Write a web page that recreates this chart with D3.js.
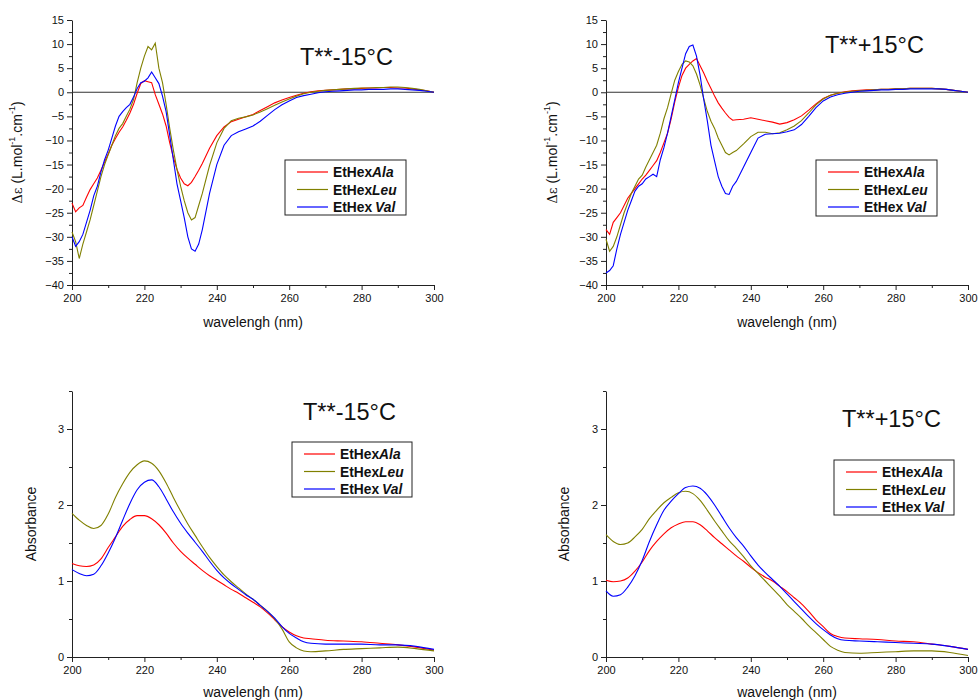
<!DOCTYPE html>
<html><head><meta charset="utf-8">
<script src="https://cdn.jsdelivr.net/npm/d3@7"></script>
<style>
body{margin:0;background:#fff;}
svg{display:block;font-family:"Liberation Sans",Arial,sans-serif;}
</style></head>
<body><svg id="c" width="978" height="700"></svg>
<script>
// ---------- DATA ----------
const seriesNames = ["Ala","Leu","Val"];
const seriesColors = ["#ff0000","#808000","#0000ff"];
const panelTitles = ["T**-15°C","T**+15°C","T**-15°C","T**+15°C"];
const cdTicks = [-40,-35,-30,-25,-20,-15,-10,-5,0,5,10,15];
const absTicks = [0,1,2,3];
const xTicks = [200,220,240,260,280,300];

const cdWl = [200,201,202,203,204,205,206,207,208,209,210,211,212,213,214,215,216,217,218,219,220,221,222,223,224,225,226,227,228,229,230,231,232,233,234,235,236,
  238,240,242,244,246,248,250,252,254,256,258,260,262,264,266,268,270,272,274,276,278,280,282,284,286,288,290,292,294,296,298,300];

const cdAlaM15 = [-23,-24.8,-24,-23.5,-21.8,-20.2,-19,-17.8,-16.2,-14.5,-12.8,-11,-9.6,-8.3,-7.2,-5.8,-4.3,-2.5,-0.2,1.8,2.4,2.2,2,-0.5,-2.5,-4.5,-7,-10.5,-13.5,-16,-17.8,-19,-19.4,-18.7,-17.5,-16.2,-14.8,
  -11.6,-9,-7.2,-6.1,-5.6,-5.1,-4.6,-3.8,-3,-2.2,-1.6,-1.1,-0.6,-0.2,0.1,0.3,0.4,0.5,0.6,0.7,0.7,0.8,0.9,0.9,1.0,1.0,0.9,0.9,0.7,0.5,0.3,0];
const cdLeuM15 = [-29,-31,-34.5,-31.5,-29,-26.5,-23.5,-20.5,-17.5,-15,-13,-11,-9,-7.5,-6.5,-5,-3.5,-1.5,2,5,7.5,9.5,8.8,10.2,5,2,-2.5,-7.5,-12,-16,-19.5,-22.5,-25,-26.5,-26,-23.5,-21,
  -15.2,-10.5,-7.5,-5.9,-5.4,-5.1,-4.7,-4.1,-3.4,-2.7,-2,-1.4,-0.8,-0.3,0,0.2,0.4,0.5,0.6,0.7,0.8,0.9,0.9,1.0,1.0,1.1,1.1,1.0,0.8,0.6,0.3,0];
const cdValM15 = [-30,-32,-31,-29.5,-27,-24.5,-21.5,-19.5,-16.5,-14,-12,-9.5,-7,-5,-4,-3.2,-2.5,-1,0.8,2,2.3,3,4.2,3,1.8,-0.8,-4,-9,-14,-19,-22.5,-26,-30,-32.5,-33,-31.5,-28.5,
  -21,-15,-11,-9,-8.2,-7.6,-7,-6,-4.8,-3.6,-2.6,-1.8,-1.1,-0.7,-0.4,-0.1,0.1,0.2,0.3,0.4,0.5,0.5,0.6,0.6,0.6,0.7,0.7,0.6,0.5,0.4,0.2,0];

const cdAlaP15 = [-28.5,-29.5,-27,-26,-25,-23.5,-22,-21,-20,-19,-18,-17.2,-16.2,-15.2,-14.2,-12.5,-10.5,-8.5,-5.5,-2,1,3.5,5,5.8,6.5,7,5.5,4,2.3,0.8,-0.8,-2.2,-3.3,-4.3,-5.2,-5.8,-5.7,
  -5.6,-5.3,-5.6,-5.9,-6.2,-6.6,-6.3,-5.7,-4.9,-3.7,-2.4,-1.3,-0.6,-0.2,0.1,0.3,0.4,0.5,0.5,0.6,0.6,0.7,0.7,0.8,0.8,0.8,0.8,0.7,0.6,0.4,0.2,0];
const cdLeuP15 = [-30.5,-33,-32,-30,-27.5,-25,-23,-21,-19.5,-18,-17.2,-15.5,-14,-12.5,-11,-8.5,-5.5,-3.2,-0.3,2.5,4.3,5.8,6.5,6.3,5.5,3.8,1.5,-1.3,-4,-6,-7.5,-9.5,-11,-12.5,-13,-12.5,-12.1,
  -10.7,-9.2,-8.3,-8.3,-8.6,-8.4,-7.8,-7,-5.9,-4.3,-2.6,-1.4,-0.6,-0.2,0,0.2,0.3,0.4,0.5,0.6,0.6,0.7,0.7,0.8,0.8,0.8,0.8,0.7,0.6,0.4,0.2,0];
const cdValP15 = [-37.5,-37,-36,-32.5,-29.5,-27,-24.5,-22.5,-20.5,-19.5,-19,-18,-17.5,-17,-17.5,-14,-11.5,-8.5,-5,-1.5,2,5,8,9.5,9.8,7.5,3.5,-1.5,-6,-11,-14.3,-17.5,-19.5,-21,-21.2,-19.5,-18.5,
  -15.5,-12.5,-9.5,-8.7,-8.6,-8.5,-8.2,-7.8,-6.7,-5,-3.2,-1.8,-1,-0.5,-0.2,0,0.2,0.3,0.4,0.5,0.5,0.6,0.6,0.7,0.7,0.7,0.7,0.7,0.6,0.4,0.2,0];

const absWl = [200,202,204,206,208,210,212,214,216,218,220,222,224,226,228,230,232,234,236,238,240,242,244,246,248,250,252,254,256,258,260,262,264,266,270,275,280,285,290,295,300];

const absAlaM15 = [1.23,1.20,1.19,1.21,1.29,1.44,1.58,1.72,1.81,1.86,1.86,1.82,1.74,1.63,1.50,1.39,1.30,1.22,1.14,1.07,1.01,0.95,0.89,0.84,0.78,0.72,0.66,0.58,0.49,0.40,0.33,0.28,0.25,0.24,0.22,0.21,0.20,0.18,0.16,0.13,0.09];
const absLeuM15 = [1.89,1.80,1.73,1.69,1.73,1.88,2.10,2.28,2.43,2.53,2.58,2.55,2.45,2.29,2.10,1.92,1.75,1.60,1.45,1.31,1.19,1.08,0.99,0.91,0.83,0.76,0.68,0.60,0.50,0.37,0.20,0.12,0.08,0.07,0.08,0.10,0.11,0.12,0.13,0.11,0.08];
const absValM15 = [1.15,1.10,1.07,1.09,1.20,1.37,1.57,1.80,2.02,2.20,2.30,2.33,2.24,2.08,1.91,1.76,1.63,1.51,1.39,1.26,1.14,1.04,0.96,0.89,0.82,0.76,0.68,0.60,0.51,0.40,0.31,0.25,0.20,0.18,0.17,0.17,0.17,0.16,0.16,0.14,0.10];

const absAlaP15 = [1.01,0.99,1.00,1.04,1.13,1.25,1.40,1.52,1.62,1.70,1.75,1.78,1.78,1.74,1.66,1.57,1.49,1.41,1.33,1.26,1.18,1.11,1.05,1.00,0.93,0.86,0.78,0.70,0.60,0.49,0.40,0.31,0.27,0.25,0.24,0.23,0.21,0.20,0.17,0.14,0.10];
const absLeuP15 = [1.61,1.52,1.48,1.50,1.58,1.68,1.82,1.93,2.03,2.10,2.16,2.18,2.15,2.06,1.93,1.79,1.66,1.53,1.43,1.32,1.20,1.10,1.00,0.90,0.80,0.69,0.60,0.51,0.41,0.32,0.23,0.14,0.09,0.06,0.05,0.06,0.07,0.08,0.08,0.06,0.02];
const absValP15 = [0.87,0.80,0.82,0.92,1.07,1.27,1.52,1.74,1.93,2.05,2.15,2.23,2.25,2.22,2.13,2.00,1.85,1.70,1.57,1.46,1.33,1.21,1.11,1.02,0.93,0.83,0.73,0.63,0.53,0.44,0.36,0.29,0.24,0.22,0.21,0.20,0.19,0.18,0.17,0.14,0.10];

// ---------- LAYOUT ----------
const svg = d3.select("#c");
const axisColor = "#222";

const panels = [
  {x0:72,x1:434,yt:20,yb:285,dom:[-40,15],ticks:cdTicks,minor:2.5,wl:cdWl,data:[cdAlaM15,cdLeuM15,cdValM15],title:panelTitles[0],tx:300,ty:65,
   leg:[285,160,121,55],ylab:"cd",ylx:18,xlabY:327,zero:true},
  {x0:606,x1:968,yt:20,yb:285,dom:[-40,15],ticks:cdTicks,minor:2.5,wl:cdWl,data:[cdAlaP15,cdLeuP15,cdValP15],title:panelTitles[1],tx:825,ty:53,
   leg:[816,160,121,56],ylab:"cd",ylx:553,xlabY:327,zero:true},
  {x0:72,x1:434,yt:391,yb:657,dom:[0,3.5],ticks:absTicks,minor:0.5,wl:absWl,data:[absAlaM15,absLeuM15,absValM15],title:panelTitles[2],tx:303,ty:420,
   leg:[292,442,120,55],ylab:"abs",ylx:32,xlabY:697,zero:false},
  {x0:606,x1:968,yt:391,yb:657,dom:[0,3.5],ticks:absTicks,minor:0.5,wl:absWl,data:[absAlaP15,absLeuP15,absValP15],title:panelTitles[3],tx:842,ty:427,
   leg:[834,460,120,55],ylab:"abs",ylx:565,xlabY:697,zero:false}
];

panels.forEach(p => {
  const x = d3.scaleLinear().domain([200,300]).range([p.x0,p.x1]);
  const y = d3.scaleLinear().domain(p.dom).range([p.yb,p.yt]);
  const g = svg.append("g");

  // minor ticks
  const minorY = d3.range(p.dom[0], p.dom[1]+1e-9, p.minor).filter(v => !p.ticks.some(t => Math.abs(t-v)<1e-9));
  const minorX = d3.range(210,300,20);
  g.append("g").attr("transform",`translate(${p.x0},0)`)
    .call(d3.axisLeft(y).tickValues(minorY).tickSize(3).tickFormat(""))
    .call(a=>a.select(".domain").remove());
  g.append("g").attr("transform",`translate(0,${p.yb})`)
    .call(d3.axisBottom(x).tickValues(minorX).tickSize(3).tickFormat(""))
    .call(a=>a.select(".domain").remove());

  // major axes
  const ya = g.append("g").attr("transform",`translate(${p.x0},0)`)
    .call(d3.axisLeft(y).tickValues(p.ticks).tickSize(5).tickPadding(3).tickSizeOuter(0).tickFormat(d3.format("d")));
  const xa = g.append("g").attr("transform",`translate(0,${p.yb})`)
    .call(d3.axisBottom(x).tickValues(xTicks).tickSize(5).tickPadding(4).tickSizeOuter(0));
  [ya,xa].forEach(a=>{
    a.selectAll("path,line").attr("stroke",axisColor).attr("stroke-width",1);
    a.selectAll("text").attr("fill","#111").attr("font-size",11).attr("font-family","Liberation Sans, Arial, sans-serif");
  });
  svg.selectAll(".tick line").attr("stroke",axisColor);

  // zero line
  if (p.zero) {
    g.append("line").attr("x1",p.x0).attr("x2",p.x1).attr("y1",y(0)).attr("y2",y(0))
      .attr("stroke","#333").attr("stroke-width",1.2);
  }

  // data lines
  p.data.forEach((vals,i) => {
    const line = d3.line().x((d,j)=>x(p.wl[j])).y(d=>y(d))
      .curve(p.zero ? d3.curveLinear : d3.curveMonotoneX);
    g.append("path").datum(vals).attr("d",line).attr("fill","none")
      .attr("stroke",seriesColors[i]).attr("stroke-width",1.1);
  });

  // title
  g.append("text").attr("x",p.tx).attr("y",p.ty).attr("font-size",23.5).attr("fill","#111").text(p.title);

  // x label
  g.append("text").attr("x",(p.x0+p.x1)/2).attr("y",p.xlabY).attr("text-anchor","middle")
    .attr("font-size",14).attr("fill","#111").text("wavelengh (nm)");

  // y label
  const cy = (p.yt+p.yb)/2;
  const yl = g.append("text").attr("transform",`translate(${p.ylx},${cy}) rotate(-90)`)
    .attr("text-anchor","middle").attr("font-size",14).attr("fill","#111").attr("dominant-baseline","middle");
  if (p.ylab==="cd") {
    yl.append("tspan").attr("font-family","DejaVu Serif, serif").attr("font-size",13).text("Δε");
    yl.append("tspan").text(" (L.mol");
    yl.append("tspan").attr("font-size",9).attr("dy",-5).text("-1");
    yl.append("tspan").attr("dy",5).text(".cm");
    yl.append("tspan").attr("font-size",9).attr("dy",-5).text("-1");
    yl.append("tspan").attr("dy",5).text(")");
  } else {
    yl.text("Absorbance");
  }

  // legend
  const [lx,ly,lw,lh] = p.leg;
  const lg = g.append("g");
  lg.append("rect").attr("x",lx).attr("y",ly).attr("width",lw).attr("height",lh)
    .attr("fill","#fff").attr("stroke","#222").attr("stroke-width",1);
  seriesNames.forEach((n,i) => {
    const ry = ly + 12 + i*17.5;
    lg.append("line").attr("x1",lx+12).attr("x2",lx+43).attr("y1",ry).attr("y2",ry)
      .attr("stroke",seriesColors[i]).attr("stroke-width",1.2);
    const t = lg.append("text").attr("x",lx+48).attr("y",ry+5).attr("font-size",13.8)
      .attr("font-weight","bold").attr("fill","#111");
    t.append("tspan").text("EtHex");
    t.append("tspan").attr("font-style","italic").attr("dx", n==="Val"?3:0).text(n);
  });
});
</script></body></html>
